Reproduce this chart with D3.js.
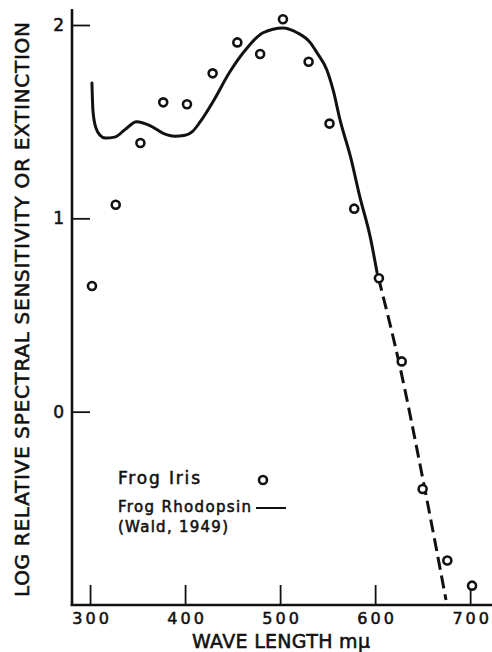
<!DOCTYPE html>
<html>
<head>
<meta charset="utf-8">
<script src="https://cdn.jsdelivr.net/npm/d3@7"></script>
<style>
  html, body { margin: 0; padding: 0; background: #fff; }
  svg { display: block; }
  text { font-family: "DejaVu Sans", sans-serif; fill: #111; stroke: #111; stroke-width: 0.55px; }
</style>
</head>
<body>
<svg id="chart" width="492" height="652"></svg>
<script>
// ---- data ----
const irisWavelength = [302, 327, 353, 377, 402, 429, 455, 479, 503, 530, 552, 578, 604, 628, 650, 676, 702];
const irisLogSens    = [0.65, 1.07, 1.39, 1.60, 1.59, 1.75, 1.91, 1.85, 2.03, 1.81, 1.49, 1.05, 0.69, 0.26, -0.40, -0.77, -0.90];

const rhodoWavelength = [302, 303, 306, 310.5, 316, 326, 337, 349, 363, 377, 389, 400, 408, 416, 429, 447, 465, 482, 503, 518, 531.5, 539, 549, 556, 563, 574, 584, 595, 602];
const rhodoLogExt     = [1.70, 1.56, 1.47, 1.43, 1.415, 1.42, 1.46, 1.50, 1.48, 1.44, 1.425, 1.43, 1.45, 1.50, 1.60, 1.757, 1.88, 1.96, 1.985, 1.96, 1.91, 1.855, 1.77, 1.66, 1.51, 1.32, 1.11, 0.90, 0.72];

const extrapWavelength = [602, 625, 652.5, 674.6];
const extrapLogExt     = [0.72, 0.257, -0.405, -0.974];

const xTicks = [300, 400, 500, 600, 700];
const yTicks = [0, 1, 2];

const yTitle = "LOG  RELATIVE  SPECTRAL  SENSITIVITY  OR  EXTINCTION";
const xTitle = "WAVE  LENGTH  m\u03BC";
const legendIris = "Frog Iris";
const legendRhodo1 = "Frog Rhodopsin";
const legendRhodo2 = "(Wald, 1949)";

// ---- drawing ----
const svg = d3.select("#chart");
const ink = "#111";

const x = d3.scaleLinear().domain([281, 723]).range([72, 492]);
const y = d3.scaleLinear().domain([-1, 2]).range([605, 25]);

// axis lines
svg.append("line").attr("x1", 72).attr("x2", 72).attr("y1", y(2.083)).attr("y2", y(-1) + 1)
  .attr("stroke", ink).attr("stroke-width", 2.6);
svg.append("line").attr("x1", 70.7).attr("x2", 492).attr("y1", y(-1)).attr("y2", y(-1))
  .attr("stroke", ink).attr("stroke-width", 2.6);

// y axis ticks (inward)
const yAxis = d3.axisLeft(y).tickValues(yTicks).tickSize(-18).tickPadding(8).tickFormat(d3.format("d"));
const gy = svg.append("g").attr("transform", "translate(72,0)").call(yAxis);
gy.select(".domain").remove();
gy.selectAll(".tick line").attr("stroke", ink).attr("stroke-width", 1.8);
gy.selectAll(".tick text").attr("font-size", 17).attr("font-family", "DejaVu Sans").attr("fill", ink);

// x axis ticks (inward)
const xAxis = d3.axisBottom(x).tickValues(xTicks).tickSize(-20).tickPadding(8).tickFormat(d3.format("d"));
const gx = svg.append("g").attr("transform", `translate(0,${y(-1)})`).call(xAxis);
gx.select(".domain").remove();
gx.selectAll(".tick line").attr("stroke", ink).attr("stroke-width", 1.8);
gx.selectAll(".tick text").attr("font-size", 16).attr("font-family", "DejaVu Sans")
  .attr("fill", ink).attr("letter-spacing", 3).attr("dx", 1.5);

// rhodopsin curve
const rhodo = rhodoWavelength.map((w, i) => [w, rhodoLogExt[i]]);
const extrap = extrapWavelength.map((w, i) => [w, extrapLogExt[i]]);
const line = d3.line().x(d => x(d[0])).y(d => y(d[1])).curve(d3.curveMonotoneX);

svg.append("path").datum(rhodo).attr("d", line)
  .attr("fill", "none").attr("stroke", ink).attr("stroke-width", 3).attr("stroke-linecap", "round");
svg.append("path").datum(extrap).attr("d", line)
  .attr("fill", "none").attr("stroke", ink).attr("stroke-width", 3)
  .attr("stroke-dasharray", "13 6").attr("stroke-dashoffset", -6);

// iris points
svg.append("g").selectAll("circle")
  .data(irisWavelength.map((w, i) => [w, irisLogSens[i]]))
  .join("circle")
  .attr("cx", d => x(d[0])).attr("cy", d => y(d[1])).attr("r", 4)
  .attr("fill", "#fff").attr("stroke", ink).attr("stroke-width", 2.6);

// legend
svg.append("text").attr("x", 118).attr("y", 484).attr("font-size", 17)
  .attr("textLength", 82).attr("lengthAdjust", "spacing").text(legendIris);
svg.append("circle").attr("cx", 263).attr("cy", 480).attr("r", 4)
  .attr("fill", "#fff").attr("stroke", ink).attr("stroke-width", 2.6);
svg.append("text").attr("x", 118).attr("y", 512).attr("font-size", 15)
  .attr("textLength", 133).attr("lengthAdjust", "spacing").text(legendRhodo1);
svg.append("line").attr("x1", 256).attr("x2", 286).attr("y1", 508).attr("y2", 508)
  .attr("stroke", ink).attr("stroke-width", 2);
svg.append("text").attr("x", 118).attr("y", 532).attr("font-size", 15)
  .attr("textLength", 110).attr("lengthAdjust", "spacing").text(legendRhodo2);

// titles
svg.append("text").attr("transform", "translate(29,597) rotate(-90)")
  .attr("x", 0).attr("y", 0).attr("font-size", 20)
  .attr("textLength", 575).attr("lengthAdjust", "spacing").text(yTitle);
svg.append("text").attr("x", 192).attr("y", 648).attr("font-size", 19)
  .attr("textLength", 178).attr("lengthAdjust", "spacing").text(xTitle);
</script>
</body>
</html>
